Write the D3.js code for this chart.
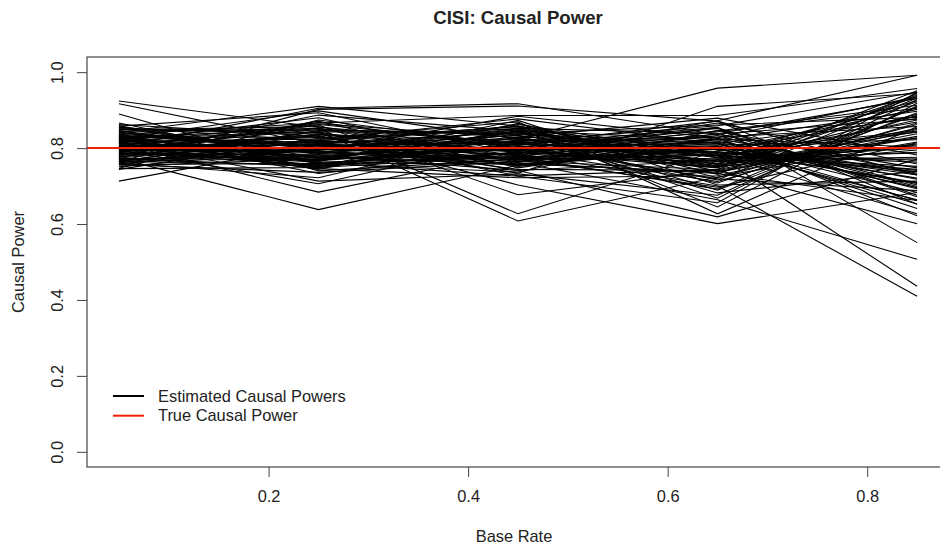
<!DOCTYPE html>
<html>
<head>
<meta charset="utf-8">
<script src="https://cdn.jsdelivr.net/npm/d3@7"></script>
<style>
  body { margin: 0; background: #fff; }
  text { font-family: "Liberation Sans", Arial, Helvetica, sans-serif; fill: #222; }
</style>
</head>
<body>
<div id="chart"></div>
<script>
var baseRates = [0.05, 0.25, 0.45, 0.65, 0.85];
var trueCausalPower = 0.8;
var xTicks = [0.2, 0.4, 0.6, 0.8];
var yTicks = [0.0, 0.2, 0.4, 0.6, 0.8, 1.0];
var legendLabels = ["Estimated Causal Powers", "True Causal Power"];

// one row per simulated run, values at each base rate
var estimates = [
  [0.924,0.855,0.812,0.781,0.842],
  [0.917,0.810,0.795,0.843,0.905],
  [0.890,0.740,0.771,0.822,0.693],
  [0.713,0.810,0.842,0.760,0.874],
  [0.773,0.638,0.755,0.804,0.721],
  [0.812,0.684,0.790,0.748,0.936],
  [0.795,0.706,0.823,0.811,0.662],
  [0.841,0.910,0.858,0.775,0.802],
  [0.803,0.905,0.917,0.836,0.748],
  [0.826,0.898,0.824,0.958,0.992],
  [0.764,0.902,0.911,0.871,0.729],
  [0.858,0.893,0.786,0.700,0.410],
  [0.782,0.887,0.845,0.781,0.436],
  [0.818,0.880,0.762,0.664,0.507],
  [0.747,0.874,0.808,0.855,0.551],
  [0.836,0.866,0.886,0.886,0.957],
  [0.789,0.861,0.677,0.742,0.601],
  [0.807,0.852,0.627,0.793,0.884],
  [0.851,0.845,0.608,0.724,0.816],
  [0.776,0.838,0.703,0.601,0.683],
  [0.862,0.831,0.741,0.619,0.771],
  [0.744,0.826,0.869,0.627,0.856],
  [0.797,0.820,0.852,0.645,0.918],
  [0.822,0.816,0.734,0.910,0.944],
  [0.758,0.812,0.781,0.872,0.992],
  [0.833,0.805,0.817,0.859,0.948],
  [0.801,0.799,0.768,0.838,0.931],
  [0.769,0.794,0.884,0.827,0.622],
  [0.845,0.789,0.829,0.814,0.641],
  [0.786,0.784,0.794,0.806,0.653],
  [0.816,0.778,0.756,0.797,0.707],
  [0.753,0.772,0.838,0.788,0.738],
  [0.829,0.767,0.804,0.779,0.752],
  [0.792,0.763,0.775,0.766,0.776],
  [0.866,0.758,0.812,0.752,0.795],
  [0.773,0.751,0.865,0.738,0.827],
  [0.808,0.746,0.722,0.727,0.849],
  [0.838,0.733,0.791,0.712,0.866],
  [0.762,0.722,0.846,0.689,0.893],
  [0.815,0.713,0.732,0.676,0.911],
  [0.781,0.868,0.801,0.852,0.672],
  [0.848,0.857,0.779,0.833,0.699],
  [0.799,0.849,0.836,0.818,0.718],
  [0.825,0.842,0.752,0.801,0.741],
  [0.766,0.835,0.821,0.786,0.763],
  [0.811,0.828,0.789,0.770,0.787],
  [0.855,0.819,0.858,0.756,0.808],
  [0.778,0.814,0.744,0.741,0.831],
  [0.804,0.807,0.814,0.829,0.857],
  [0.832,0.801,0.783,0.812,0.878],
  [0.751,0.796,0.849,0.795,0.902],
  [0.794,0.790,0.769,0.781,0.925],
  [0.842,0.786,0.825,0.764,0.939],
  [0.771,0.781,0.798,0.749,0.951],
  [0.819,0.775,0.761,0.733,0.662],
  [0.787,0.770,0.807,0.719,0.688],
  [0.859,0.765,0.873,0.703,0.713],
  [0.756,0.760,0.737,0.847,0.734],
  [0.813,0.754,0.786,0.866,0.758],
  [0.835,0.748,0.829,0.879,0.782],
  [0.779,0.871,0.748,0.824,0.803],
  [0.802,0.862,0.811,0.808,0.822],
  [0.827,0.853,0.776,0.791,0.845],
  [0.763,0.846,0.842,0.775,0.869],
  [0.849,0.839,0.793,0.759,0.889],
  [0.791,0.833,0.727,0.744,0.922],
  [0.817,0.824,0.856,0.731,0.943],
  [0.774,0.818,0.815,0.716,0.932],
  [0.806,0.809,0.772,0.697,0.814],
  [0.839,0.803,0.833,0.682,0.739],
  [0.759,0.797,0.799,0.816,0.696],
  [0.798,0.792,0.764,0.799,0.664],
  [0.823,0.787,0.862,0.783,0.627],
  [0.784,0.782,0.741,0.768,0.789],
  [0.853,0.776,0.819,0.754,0.843],
  [0.768,0.771,0.785,0.837,0.876],
  [0.809,0.766,0.846,0.822,0.897],
  [0.831,0.761,0.758,0.805,0.729],
  [0.789,0.755,0.803,0.789,0.768],
  [0.746,0.749,0.779,0.772,0.799],
  [0.814,0.864,0.827,0.758,0.826],
  [0.844,0.851,0.766,0.743,0.852],
  [0.777,0.843,0.838,0.861,0.881],
  [0.800,0.836,0.791,0.845,0.913],
  [0.828,0.829,0.754,0.828,0.935],
  [0.761,0.822,0.877,0.812,0.683],
  [0.805,0.815,0.809,0.797,0.709],
  [0.836,0.808,0.771,0.782,0.744],
  [0.783,0.802,0.834,0.765,0.772],
  [0.812,0.795,0.796,0.751,0.811],
  [0.796,0.789,0.759,0.736,0.838],
  [0.856,0.783,0.853,0.722,0.862],
  [0.772,0.777,0.818,0.708,0.887],
  [0.820,0.773,0.777,0.692,0.908],
  [0.787,0.768,0.843,0.668,0.928],
  [0.846,0.762,0.726,0.656,0.947],
  [0.765,0.757,0.810,0.871,0.652],
  [0.803,0.752,0.787,0.854,0.676],
  [0.825,0.744,0.852,0.839,0.703],
  [0.757,0.736,0.765,0.825,0.731]
];

var width = 940, height = 550;
var plotLeft = 87, plotRight = 949, plotTop = 57, plotBottom = 467;

var svg = d3.select("#chart").append("svg")
      .attr("width", width)
      .attr("height", height);

// R style: 4% padding round the data range
var x = d3.scaleLinear().domain([0.018, 0.882]).range([plotLeft, plotRight]);
var y = d3.scaleLinear().domain([-0.04, 1.04]).range([plotBottom, plotTop]);

var line = d3.line()
      .x(function(d, i){ return x(baseRates[i]); })
      .y(function(d){ return y(d); });

svg.append("g")
      .attr("class", "runs")
      .selectAll("path")
      .data(estimates)
      .enter()
      .append("path")
      .attr("d", line)
      .attr("fill", "none")
      .attr("stroke", "#000")
      .attr("stroke-width", 1.1);

svg.append("line")
      .attr("x1", plotLeft)
      .attr("x2", plotRight)
      .attr("y1", y(trueCausalPower))
      .attr("y2", y(trueCausalPower))
      .attr("stroke", "#f2200d")
      .attr("stroke-width", 2);

// plot box
svg.append("rect")
      .attr("x", plotLeft)
      .attr("y", plotTop)
      .attr("width", plotRight - plotLeft)
      .attr("height", plotBottom - plotTop)
      .attr("fill", "none")
      .attr("stroke", "#444")
      .attr("stroke-width", 1.2);

var xAxis = svg.append("g")
      .attr("transform", "translate(0," + plotBottom + ")")
      .call(d3.axisBottom(x).tickValues(xTicks).tickSize(10).tickPadding(13)
            .tickFormat(d3.format(".1f")));
xAxis.select(".domain").remove();
xAxis.selectAll("line").attr("stroke", "#444");
xAxis.selectAll("text").attr("font-size", 16.4).attr("fill", "#222")
      .style("font-family", "'Liberation Sans', Arial, sans-serif");

var yAxis = svg.append("g")
      .attr("transform", "translate(" + plotLeft + ",0)")
      .call(d3.axisLeft(y).tickValues(yTicks).tickSize(10)
            .tickFormat(d3.format(".1f")));
yAxis.select(".domain").remove();
yAxis.selectAll("line").attr("stroke", "#444");
yAxis.selectAll("text")
      .attr("x", null).attr("dy", null)
      .attr("text-anchor", "middle")
      .attr("transform", "translate(-24,0) rotate(-90)")
      .attr("font-size", 16.4).attr("fill", "#222")
      .style("font-family", "'Liberation Sans', Arial, sans-serif");

svg.append("text")
      .attr("x", (plotLeft + plotRight) / 2)
      .attr("y", 24)
      .attr("text-anchor", "middle")
      .attr("font-size", 18.6)
      .attr("font-weight", "bold")
      .text("CISI: Causal Power");

svg.append("text")
      .attr("x", (plotLeft + plotRight) / 2 - 4)
      .attr("y", 542)
      .attr("text-anchor", "middle")
      .attr("font-size", 16.4)
      .text("Base Rate");

svg.append("text")
      .attr("transform", "translate(24," + ((plotTop + plotBottom) / 2) + ") rotate(-90)")
      .attr("text-anchor", "middle")
      .attr("font-size", 16.4)
      .text("Causal Power");

var legend = svg.append("g").attr("class", "legend");
var legendColors = ["#000", "#f2200d"];
legend.selectAll("line")
      .data(legendLabels)
      .enter()
      .append("line")
      .attr("x1", 113)
      .attr("x2", 144)
      .attr("y1", function(d, i){ return 396 + i * 19.7; })
      .attr("y2", function(d, i){ return 396 + i * 19.7; })
      .attr("stroke", function(d, i){ return legendColors[i]; })
      .attr("stroke-width", 2);
legend.selectAll("text")
      .data(legendLabels)
      .enter()
      .append("text")
      .attr("x", 158)
      .attr("y", function(d, i){ return 396 + i * 19.7; })
      .attr("dy", "0.35em")
      .attr("font-size", 16.4)
      .text(function(d){ return d; });
</script>
</body>
</html>
